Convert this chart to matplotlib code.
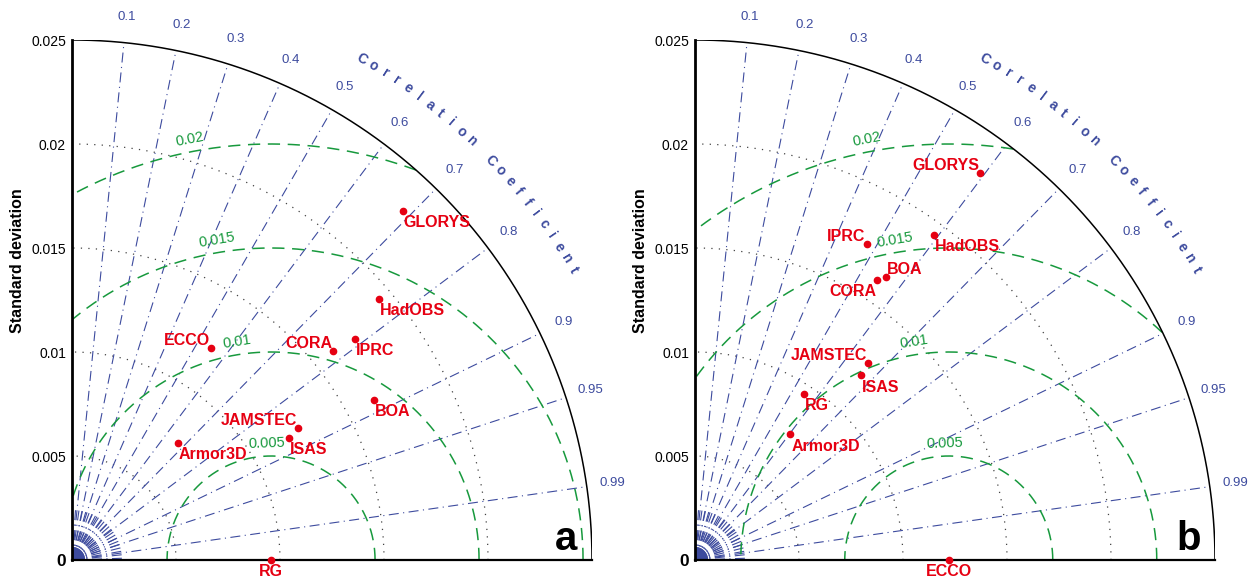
import numpy as np
import matplotlib.pyplot as plt

plt.rcParams['font.family'] = ['Liberation Sans', 'DejaVu Sans']

BLUE = '#3d4b9e'
GREEN = '#17993d'
RED = '#e60012'

RMAX = 0.025
std_ticks = [0, 0.005, 0.01, 0.015, 0.02, 0.025]
std_tick_labels = ['0', '0.005', '0.01', '0.015', '0.02', '0.025']
std_circles = [0.005, 0.01, 0.015, 0.02]
cor_ticks = [0.1, 0.2, 0.3, 0.4, 0.5, 0.6, 0.7, 0.8, 0.9, 0.95, 0.99]
cor_tick_labels = ['0.1', '0.2', '0.3', '0.4', '0.5', '0.6', '0.7', '0.8', '0.9', '0.95', '0.99']
rms_levels = [0.005, 0.01, 0.015, 0.02]
rms_labels = ['0.005', '0.01', '0.015', '0.02']
rms_label_angle = [92, 99, 99.6, 101]

# panel a: RG is the reference
names_a = ['RG', 'GLORYS', 'HadOBS', 'ECCO', 'CORA', 'IPRC', 'BOA', 'JAMSTEC', 'ISAS', 'Armor3D']
std_a = [0.00957, 0.02312, 0.01937, 0.01221, 0.01609, 0.01729, 0.01643, 0.0126, 0.01195, 0.00759]
cor_a = [1.0, 0.688, 0.762, 0.549, 0.781, 0.788, 0.884, 0.863, 0.872, 0.669]
place_a = ['ct', 'lt', 'lt', 'rb', 'rb', 'lt', 'lt', 'rb', 'lt', 'lt']

# panel b: ECCO is the reference
names_b = ['ECCO', 'GLORYS', 'HadOBS', 'IPRC', 'BOA', 'CORA', 'JAMSTEC', 'ISAS', 'RG', 'Armor3D']
std_b = [0.0122, 0.0231, 0.01939, 0.01729, 0.01641, 0.01607, 0.01258, 0.01193, 0.00954, 0.00758]
cor_b = [1.0, 0.593, 0.593, 0.477, 0.559, 0.545, 0.660, 0.668, 0.548, 0.605]
place_b = ['ct', 'rb', 'lt', 'rb', 'lb', 'rt', 'rb', 'lt', 'lt', 'lt']

DASHDOT = (9, 4, 1, 4)


def taylor(ax, names, std, cor, place, letter):
    ax.set_xlim(0, RMAX)
    ax.set_ylim(0, RMAX)
    ax.set_aspect('equal')
    for side in ['top', 'right']:
        ax.spines[side].set_visible(False)
    ax.spines['left'].set_linewidth(2.0)
    ax.spines['bottom'].set_linewidth(1.6)
    ax.set_xticks([])
    ax.set_yticks(std_ticks)
    ax.set_yticklabels(std_tick_labels)
    ax.tick_params(axis='y', length=0, pad=4.3, labelsize=10)
    lab0 = ax.get_yticklabels()[0]
    lab0.set_fontweight('bold')
    lab0.set_fontsize(12.5)

    t = np.linspace(0, np.pi / 2, 400)

    # std circles
    for s in std_circles:
        ax.plot(s * np.cos(t), s * np.sin(t), color='#444444', lw=0.9,
                dashes=(1, 5), zorder=1)
    ax.plot(RMAX * np.cos(t), RMAX * np.sin(t), color='black', lw=1.1, zorder=3)

    # correlation spokes
    for c, lab in zip(cor_ticks, cor_tick_labels):
        th = np.arccos(c)
        ax.plot([0, RMAX * np.cos(th)], [0, RMAX * np.sin(th)], color=BLUE,
                lw=0.8, dashes=DASHDOT, zorder=1)
        ax.text(1.05 * RMAX * np.cos(th), 1.05 * RMAX * np.sin(th), lab,
                color=BLUE, fontsize=9.5, ha='center', va='center')
    # short spokes crowding the origin
    for a in np.radians(np.arange(2, 90, 4)):
        ax.plot([0, 0.0024 * np.cos(a)], [0, 0.0024 * np.sin(a)], color=BLUE,
                lw=0.8, dashes=DASHDOT, zorder=1)
    for a in np.radians(np.arange(1, 90, 1.5)):
        ax.plot([0, 0.0006 * np.cos(a)], [0, 0.0006 * np.sin(a)], color=BLUE,
                lw=0.7, zorder=1)

    # curved axis title
    title = 'Correlation Coefficient'
    angs = np.linspace(60, 30, len(title))
    for ch, a in zip(title, angs):
        if ch == ' ':
            continue
        ar = np.radians(a)
        ax.text(1.1135 * RMAX * np.cos(ar), 1.1135 * RMAX * np.sin(ar), ch,
                color=BLUE, fontsize=10, fontweight='bold', ha='center',
                va='center', rotation=a - 90, rotation_mode='anchor')

    # centred RMS difference circles
    ref = std[0]
    tt = np.linspace(0, np.pi, 800)
    for r, lab, la in zip(rms_levels, rms_labels, rms_label_angle):
        x = ref + r * np.cos(tt)
        y = r * np.sin(tt)
        bad = (np.hypot(x, y) > RMAX) | (x < 0)
        x[bad] = np.nan
        y[bad] = np.nan
        ax.plot(x, y, color=GREEN, lw=1.1, dashes=(8, 5), zorder=2)
        lr = np.radians(la)
        ax.text(ref + (r + 0.0006) * np.cos(lr), (r + 0.0006) * np.sin(lr), lab,
                color=GREEN, fontsize=10.5, ha='center', va='center',
                rotation=la - 90, rotation_mode='anchor')

    # data points
    for n, s, c, p in zip(names, std, cor, place):
        x = s * c
        y = s * np.sqrt(1 - c ** 2)
        ax.plot(x, y, 'o', color=RED, ms=4.5, clip_on=False, zorder=5)
        ha = {'l': 'left', 'r': 'right', 'c': 'center'}[p[0]]
        va = {'t': 'top', 'b': 'bottom'}[p[1]]
        dx = {'l': 0.7, 'r': -0.7, 'c': 0}[p[0]]
        dy = {'t': -3.0, 'b': 0.0}[p[1]]
        ax.annotate(n, (x, y), xytext=(dx, dy), textcoords='offset points',
                    ha=ha, va=va, color=RED, fontsize=11.5, fontweight='bold',
                    zorder=6, annotation_clip=False)

    ax.text(-0.0026, 0.0144, 'Standard deviation', rotation=90, ha='center',
            va='center', fontsize=11.5, fontweight='bold')
    ax.text(0.0243, 0.00048, letter, ha='right', va='baseline', fontsize=29,
            fontweight='bold')


fig = plt.figure(figsize=(12.56, 5.78), dpi=100)
ax1 = fig.add_axes([72 / 1256, 18 / 578, 520 / 1256, 520 / 578])
ax2 = fig.add_axes([695 / 1256, 18 / 578, 520 / 1256, 520 / 578])
taylor(ax1, names_a, std_a, cor_a, place_a, 'a')
taylor(ax2, names_b, std_b, cor_b, place_b, 'b')

fig.savefig('out.png', dpi=100)
